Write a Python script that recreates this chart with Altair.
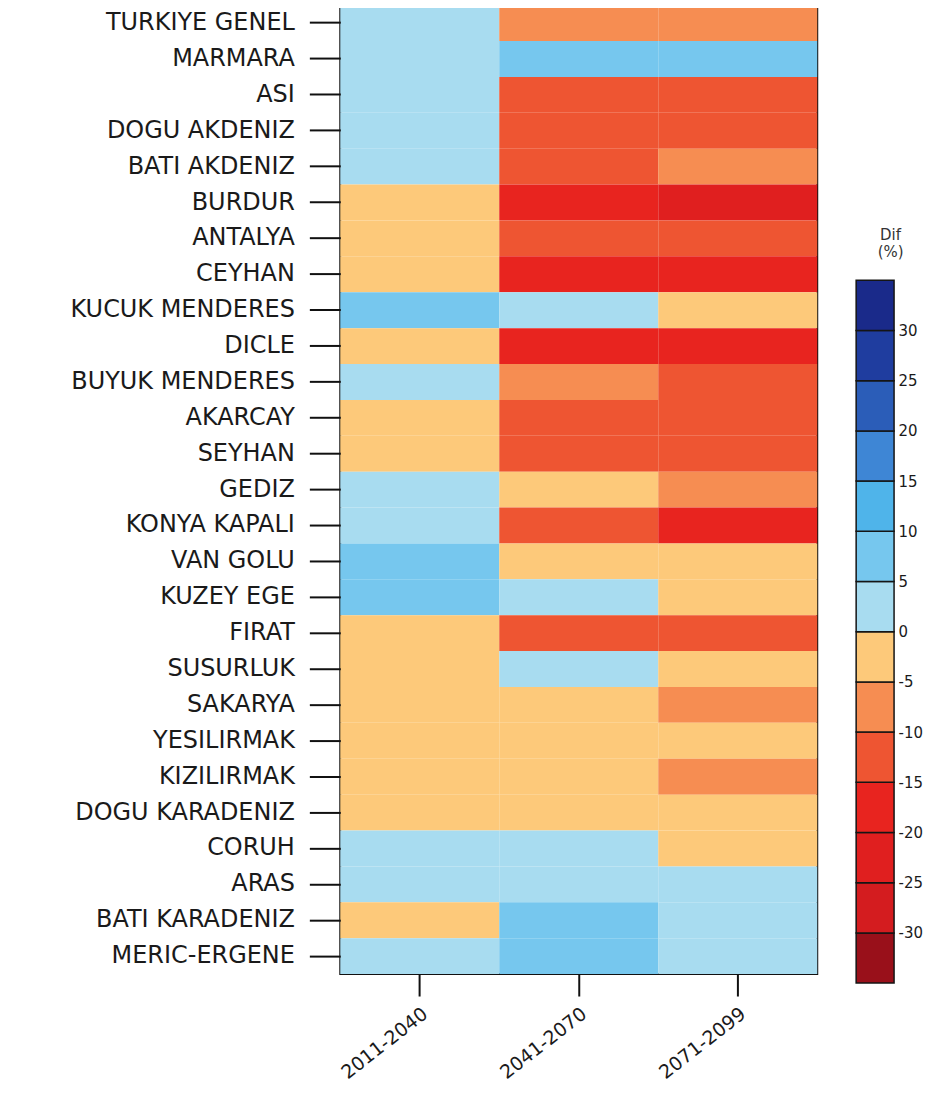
import altair as alt
import pandas as pd

basins = [
    "TURKIYE GENEL", "MARMARA", "ASI", "DOGU AKDENIZ", "BATI AKDENIZ",
    "BURDUR", "ANTALYA", "CEYHAN", "KUCUK MENDERES", "DICLE",
    "BUYUK MENDERES", "AKARCAY", "SEYHAN", "GEDIZ", "KONYA KAPALI",
    "VAN GOLU", "KUZEY EGE", "FIRAT", "SUSURLUK", "SAKARYA",
    "YESILIRMAK", "KIZILIRMAK", "DOGU KARADENIZ", "CORUH", "ARAS",
    "BATI KARADENIZ", "MERIC-ERGENE",
]
periods = ["2011-2040", "2041-2070", "2071-2099"]

diff_2011_2040 = [2, 4, 2, 2, 2, -3, -3, -3, 6, -3, 3, -3, -3, 3, 3,
                  7, 7, -2, -2, -2, -2, -2, -2, 3, 3, -2, 4]
diff_2041_2070 = [-8, 8, -12, -12, -12, -18, -13, -18, 3, -18, -8, -12, -12, -3, -13,
                  -3, 3, -12, 3, -2, -2, -2, -2, 3, 3, 7, 7]
diff_2071_2099 = [-8, 6, -12, -12, -8, -22, -13, -18, -3, -18, -12, -12, -12, -8, -18,
                  -3, -3, -12, -3, -8, -2, -8, -2, -2, 3, 3, 3]

thresholds = [-30, -25, -20, -15, -10, -5, 0, 5, 10, 15, 20, 25, 30]
bin_lows = [-35, -30, -25, -20, -15, -10, -5, 0, 5, 10, 15, 20, 25, 30]
colors = ["#99101a", "#d41c1f", "#e01f1f", "#e8241f", "#ee5532", "#f68d52",
          "#fdc97a", "#a8dcf0", "#76c7ee", "#4fb4ea", "#3e86d5", "#2b5db8",
          "#1f3d9f", "#1a2a8a"]

rows = []
for i, b in enumerate(basins):
    for per, vals in zip(periods, [diff_2011_2040, diff_2041_2070, diff_2071_2099]):
        rows.append({"basin": b, "period": per, "diff": vals[i]})
df = pd.DataFrame(rows)

leg_df = pd.DataFrame({
    "lo": bin_lows,
    "hi": [v + 5 for v in bin_lows],
    "mid": [v + 2.5 for v in bin_lows],
})

color_scale = alt.Scale(type="threshold", domain=thresholds, range=colors)

heat = alt.Chart(df).mark_rect().encode(
    x=alt.X("period:N", sort=periods, title=None,
            axis=alt.Axis(labelAngle=-38, labelFontSize=19, tickSize=22,
                          labelPadding=8, domain=False)),
    y=alt.Y("basin:N", sort=basins, title=None,
            axis=alt.Axis(labelFontSize=24, tickSize=31, labelPadding=15,
                          labelLimit=500, domain=False)),
    color=alt.Color("diff:Q", scale=color_scale, legend=None),
).properties(width=478, height=971)

legend = alt.Chart(leg_df).mark_rect(stroke="#151515", strokeWidth=1.5).encode(
    x=alt.value(0),
    x2=alt.value(38),
    y=alt.Y("lo:Q",
            scale=alt.Scale(domain=[-34.1, 62.4], nice=False, zero=False),
            axis=alt.Axis(orient="right", values=thresholds, ticks=False,
                          domain=False, grid=False, labelFontSize=15,
                          labelPadding=4, labelExpr="'' + datum.value",
                          title=["Dif", "(%)"], titleAngle=0, titleX=-4,
                          titleY=235, titleAlign="center",
                          titleBaseline="alphabetic", titleFontSize=15,
                          titleFontWeight="normal", titleColor="#333333",
                          titleLineHeight=17)),
    y2="hi:Q",
    color=alt.Color("mid:Q", scale=color_scale, legend=None),
).properties(width=38, height=971, view=alt.ViewBackground(stroke="transparent"))

chart = alt.hconcat(heat, legend, spacing=36).properties(
    padding={"left": 61, "top": -5, "right": 0, "bottom": 0},
    background="white",
).configure_view(
    stroke="#111111", strokeWidth=2
).configure_axis(
    labelFont="DejaVu Sans", titleFont="DejaVu Sans",
    labelColor="#1a1a1a", tickColor="#111111", tickWidth=2,
)

chart.save("out.html", embed_options={"renderer": "svg", "actions": False})
